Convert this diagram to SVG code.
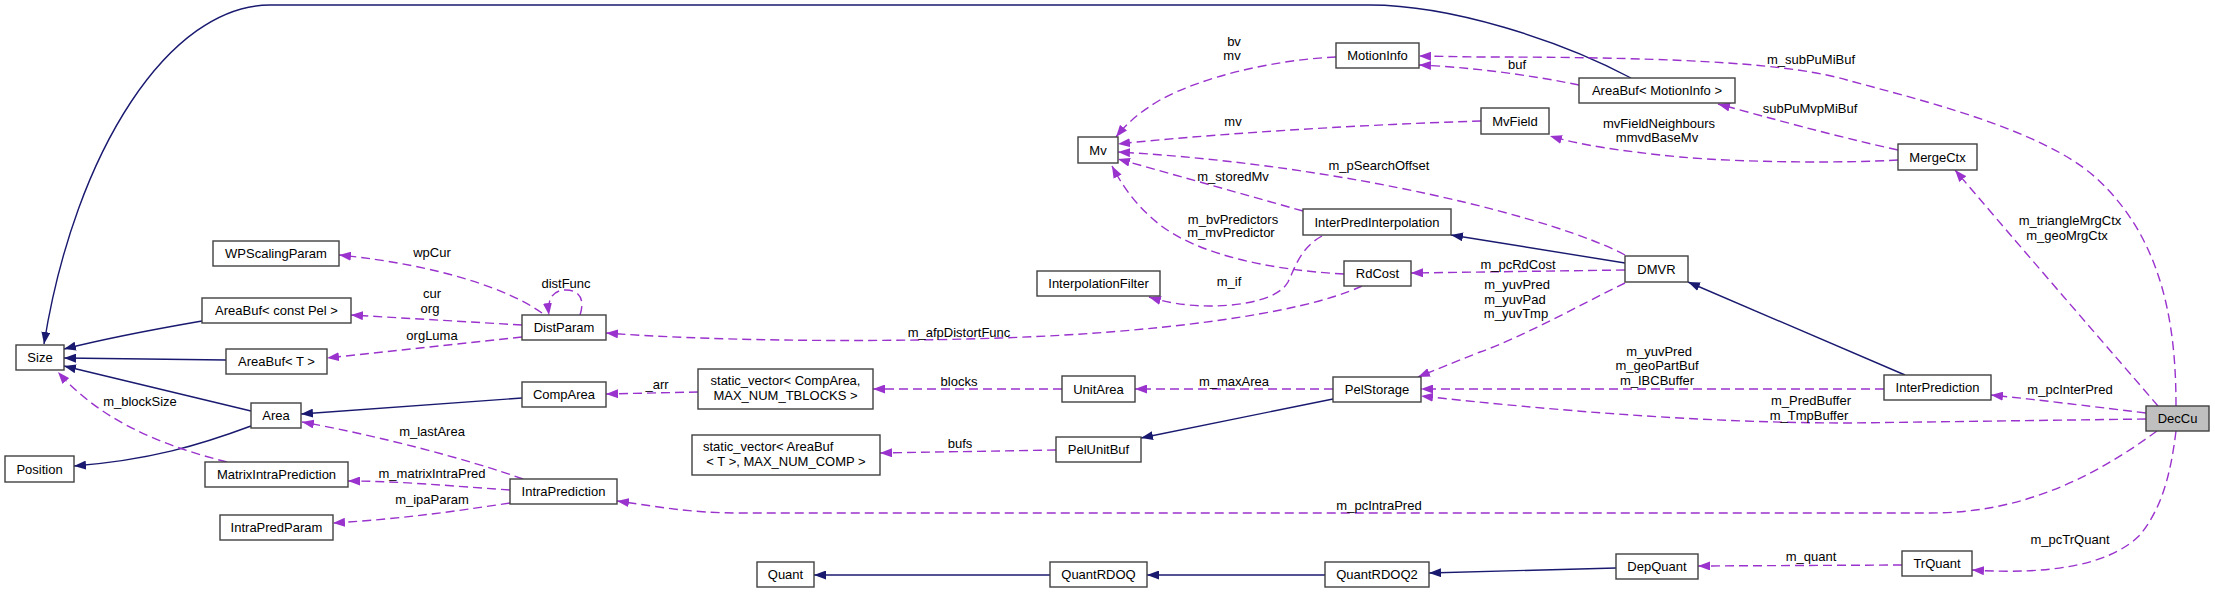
<svg xmlns="http://www.w3.org/2000/svg" width="2215" height="593" viewBox="0 0 2215 593">
<style>
.n rect{fill:#fff;stroke:#404040;stroke-width:1.4}
.n text,.lb text{font-family:"Liberation Sans",Arial,sans-serif;font-size:13px;fill:#000}
.n text{text-anchor:middle}
.lb text{text-anchor:middle}
.inh{fill:none;stroke:#191970;stroke-width:1.4;marker-end:url(#an)}
.use{fill:none;stroke:#9a32cd;stroke-width:1.4;stroke-dasharray:9,5;marker-end:url(#ap)}
</style>
<defs>
<marker id="an" viewBox="0 0 12 9" refX="12" refY="4.5" markerWidth="12" markerHeight="9" markerUnits="userSpaceOnUse" orient="auto"><path d="M0,0 L12,4.5 L0,9 z" fill="#191970"/></marker>
<marker id="ap" viewBox="0 0 12 9" refX="12" refY="4.5" markerWidth="12" markerHeight="9" markerUnits="userSpaceOnUse" orient="auto"><path d="M0,0 L12,4.5 L0,9 z" fill="#9a32cd"/></marker>
</defs>
<rect width="2215" height="593" fill="#fff"/>
<g id="edges">
<path class="inh" d="M1631,78 C1560,40 1450,5 1370,5 L270,5 C170,5 75,150 44,344"/>
<path class="inh" d="M202,321 C150,330 100,340 64,349"/>
<path class="inh" d="M226,360 L64,358"/>
<path class="inh" d="M251,411 L64,366"/>
<path class="inh" d="M251,426 C200,445 150,460 74,466"/>
<path class="inh" d="M522,398 L301,414"/>
<path class="inh" d="M1333,399 L1141,438"/>
<path class="inh" d="M1625,263 L1451,235"/>
<path class="inh" d="M1905,375 L1688,282"/>
<path class="inh" d="M1050,575 L814,575"/>
<path class="inh" d="M1325,575 L1147,575"/>
<path class="inh" d="M1616,568 L1429,573"/>
<path class="use" d="M542,313 C510,290 440,265 339,255"/>
<path class="use" d="M580,315 C585,300 580,290 566,290 C552,290 547,300 549,315"/>
<path class="use" d="M522,325 L351,315"/>
<path class="use" d="M522,337 L327,358"/>
<path class="use" d="M1362,286 C1300,315 1150,333 1000,338 C850,343 700,340 606,333"/>
<path class="use" d="M698,392 L606,394"/>
<path class="use" d="M1062,389 L873,389"/>
<path class="use" d="M1056,450 L880,453"/>
<path class="use" d="M1333,389 L1135,389"/>
<path class="use" d="M523,479 C470,460 380,436 302,422"/>
<path class="use" d="M510,490 C450,486 400,481 348,481"/>
<path class="use" d="M510,503 C450,512 400,519 333,523"/>
<path class="use" d="M227,462 C160,445 100,420 58,372"/>
<path class="use" d="M2157,431 C2090,480 2020,513 1930,513 L740,513 C690,513 660,507 617,501"/>
<path class="use" d="M1322,236 C1300,248 1295,268 1288,282 C1278,300 1240,306 1210,306 C1185,306 1165,302 1149,297"/>
<path class="use" d="M1336,57 C1270,60 1200,78 1160,100 C1140,112 1128,122 1116,137"/>
<path class="use" d="M1481,121 C1350,125 1200,135 1118,144"/>
<path class="use" d="M1625,255 C1560,220 1350,165 1118,152"/>
<path class="use" d="M1303,211 L1118,159"/>
<path class="use" d="M1344,274 C1270,270 1200,255 1160,225 C1135,205 1122,185 1112,166"/>
<path class="use" d="M1579,85 C1530,75 1470,67 1419,65"/>
<path class="use" d="M2176,406 C2176,330 2165,240 2095,177 C2040,127 1900,95 1847,80 C1794,65 1700,57 1480,57 L1419,56"/>
<path class="use" d="M1898,150 C1830,135 1770,118 1718,104"/>
<path class="use" d="M1898,160 C1850,163 1750,163 1680,157 C1620,151 1580,145 1550,136"/>
<path class="use" d="M2158,406 C2110,350 2040,270 1955,170"/>
<path class="use" d="M2146,413 C2080,405 2040,400 1991,395"/>
<path class="use" d="M2146,419 L1850,423 C1700,423 1550,410 1421,396"/>
<path class="use" d="M1884,389 L1421,389"/>
<path class="use" d="M1625,283 C1580,305 1520,338 1480,352 C1455,362 1435,370 1418,377"/>
<path class="use" d="M1625,270 L1411,273"/>
<path class="use" d="M2176,431 C2170,480 2160,510 2140,535 C2110,565 2050,575 1972,570"/>
<path class="use" d="M1902,565 L1698,566"/>
</g>
<g class="lb" id="labels">
<text x="432" y="257">wpCur</text>
<text x="566" y="288">distFunc</text>
<text x="432" y="298">cur</text>
<text x="430" y="313">org</text>
<text x="432" y="340">orgLuma</text>
<text x="657" y="389">_arr</text>
<text x="432" y="436">m_lastArea</text>
<text x="432" y="478">m_matrixIntraPred</text>
<text x="432" y="504">m_ipaParam</text>
<text x="140" y="406">m_blockSize</text>
<text x="959" y="337">m_afpDistortFunc</text>
<text x="959" y="386">blocks</text>
<text x="960" y="448">bufs</text>
<text x="1234" y="386">m_maxArea</text>
<text x="1379" y="510">m_pcIntraPred</text>
<text x="1234" y="46">bv</text>
<text x="1232" y="60">mv</text>
<text x="1233" y="126">mv</text>
<text x="1379" y="170">m_pSearchOffset</text>
<text x="1233" y="181">m_storedMv</text>
<text x="1233" y="224">m_bvPredictors</text>
<text x="1231" y="237">m_mvPredictor</text>
<text x="1229" y="286">m_if</text>
<text x="1517" y="69">buf</text>
<text x="1811" y="64">m_subPuMiBuf</text>
<text x="1810" y="113">subPuMvpMiBuf</text>
<text x="1659" y="128">mvFieldNeighbours</text>
<text x="1657" y="142">mmvdBaseMv</text>
<text x="1518" y="269">m_pcRdCost</text>
<text x="1517" y="289">m_yuvPred</text>
<text x="1515" y="304">m_yuvPad</text>
<text x="1516" y="318">m_yuvTmp</text>
<text x="1659" y="356">m_yuvPred</text>
<text x="1657" y="370">m_geoPartBuf</text>
<text x="1657" y="385">m_IBCBuffer</text>
<text x="1811" y="405">m_PredBuffer</text>
<text x="1809" y="420">m_TmpBuffer</text>
<text x="1811" y="561">m_quant</text>
<text x="2070" y="225">m_triangleMrgCtx</text>
<text x="2067" y="240">m_geoMrgCtx</text>
<text x="2070" y="394">m_pcInterPred</text>
<text x="2070" y="544">m_pcTrQuant</text>
</g>
<g class="n" id="Size"><rect x="16" y="345" width="48" height="25"/><text x="40" y="362">Size</text></g>
<g class="n" id="Position"><rect x="5" y="456" width="69" height="26"/><text x="39.5" y="474">Position</text></g>
<g class="n" id="WPScalingParam"><rect x="213" y="241" width="126" height="25"/><text x="276" y="258">WPScalingParam</text></g>
<g class="n" id="AreaBufConstPel"><rect x="202" y="298" width="149" height="25"/><text x="276.5" y="315">AreaBuf&lt; const Pel &gt;</text></g>
<g class="n" id="AreaBufT"><rect x="226" y="349" width="101" height="25"/><text x="276.5" y="366">AreaBuf&lt; T &gt;</text></g>
<g class="n" id="Area"><rect x="251" y="403" width="50" height="25"/><text x="276" y="420">Area</text></g>
<g class="n" id="MatrixIntraPrediction"><rect x="205" y="462" width="143" height="25"/><text x="276.5" y="479">MatrixIntraPrediction</text></g>
<g class="n" id="IntraPredParam"><rect x="220" y="515" width="113" height="25"/><text x="276.5" y="532">IntraPredParam</text></g>
<g class="n" id="DistParam"><rect x="522" y="315" width="84" height="25"/><text x="564" y="332">DistParam</text></g>
<g class="n" id="CompArea"><rect x="522" y="382" width="84" height="25"/><text x="564" y="399">CompArea</text></g>
<g class="n" id="IntraPrediction"><rect x="510" y="479" width="107" height="25"/><text x="563.5" y="496">IntraPrediction</text></g>
<g class="n" id="StaticVectorCompArea"><rect x="698" y="369" width="175" height="40"/><text x="785.5" y="385">static_vector&lt; CompArea,</text><text x="785.5" y="400">MAX_NUM_TBLOCKS &gt;</text></g>
<g class="n" id="StaticVectorAreaBuf"><rect x="692" y="435" width="188" height="40"/><text x="703" y="451" style="text-anchor:start">static_vector&lt; AreaBuf</text><text x="786" y="466">&lt; T &gt;, MAX_NUM_COMP &gt;</text></g>
<g class="n" id="Quant"><rect x="757" y="562" width="57" height="25"/><text x="785.5" y="579">Quant</text></g>
<g class="n" id="QuantRDOQ"><rect x="1050" y="562" width="97" height="25"/><text x="1098.5" y="579">QuantRDOQ</text></g>
<g class="n" id="UnitArea"><rect x="1062" y="376" width="73" height="26"/><text x="1098.5" y="394">UnitArea</text></g>
<g class="n" id="PelUnitBuf"><rect x="1056" y="437" width="85" height="25"/><text x="1098.5" y="454">PelUnitBuf</text></g>
<g class="n" id="Mv"><rect x="1078" y="137" width="40" height="26"/><text x="1098" y="155">Mv</text></g>
<g class="n" id="InterpolationFilter"><rect x="1037" y="271" width="123" height="25"/><text x="1098.5" y="288">InterpolationFilter</text></g>
<g class="n" id="MotionInfo"><rect x="1336" y="43" width="83" height="25"/><text x="1377.5" y="60">MotionInfo</text></g>
<g class="n" id="InterPredInterpolation"><rect x="1303" y="209" width="148" height="26"/><text x="1377" y="227">InterPredInterpolation</text></g>
<g class="n" id="RdCost"><rect x="1344" y="261" width="67" height="25"/><text x="1377.5" y="278">RdCost</text></g>
<g class="n" id="PelStorage"><rect x="1333" y="377" width="88" height="25"/><text x="1377" y="394">PelStorage</text></g>
<g class="n" id="QuantRDOQ2"><rect x="1325" y="562" width="104" height="25"/><text x="1377" y="579">QuantRDOQ2</text></g>
<g class="n" id="AreaBufMotionInfo"><rect x="1579" y="78" width="156" height="25"/><text x="1657" y="95">AreaBuf&lt; MotionInfo &gt;</text></g>
<g class="n" id="MvField"><rect x="1481" y="108" width="68" height="26"/><text x="1515" y="126">MvField</text></g>
<g class="n" id="DMVR"><rect x="1625" y="256" width="63" height="26"/><text x="1656.5" y="274">DMVR</text></g>
<g class="n" id="DepQuant"><rect x="1616" y="554" width="82" height="25"/><text x="1657" y="571">DepQuant</text></g>
<g class="n" id="MergeCtx"><rect x="1898" y="144" width="79" height="26"/><text x="1937.5" y="162">MergeCtx</text></g>
<g class="n" id="InterPrediction"><rect x="1884" y="375" width="107" height="25"/><text x="1937.5" y="392">InterPrediction</text></g>
<g class="n" id="DecCu"><rect x="2146" y="406" width="63" height="25" style="fill:#bfbfbf"/><text x="2177.5" y="423">DecCu</text></g>
<g class="n" id="TrQuant"><rect x="1902" y="551" width="70" height="25"/><text x="1937" y="568">TrQuant</text></g>
</svg>
